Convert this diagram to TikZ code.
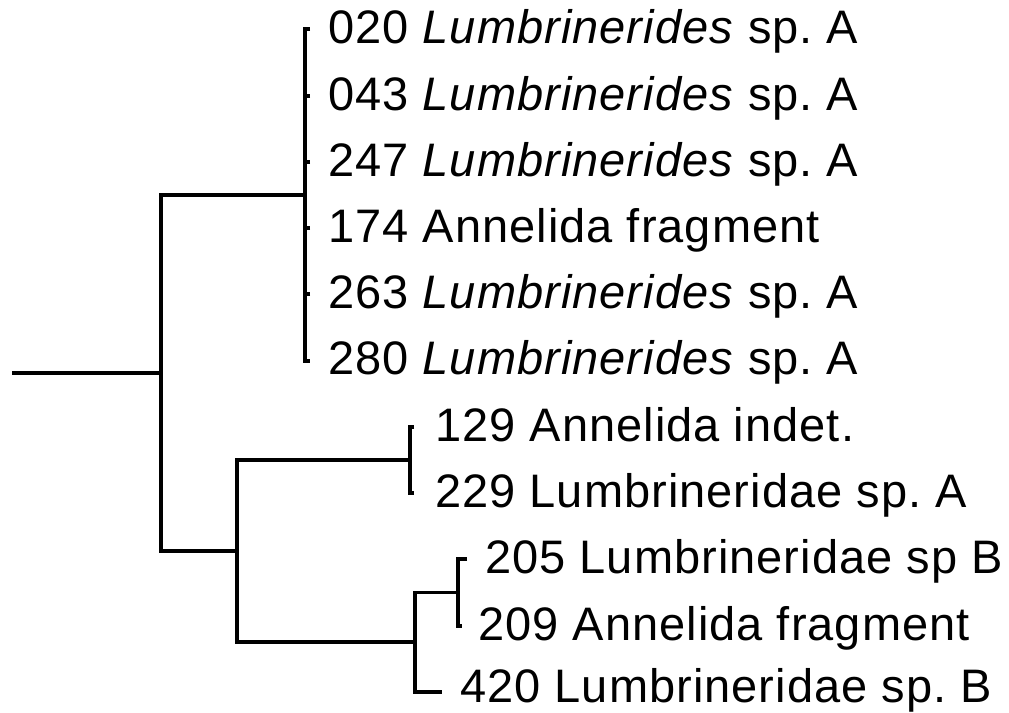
\documentclass[tikz,border=0pt]{standalone}
\usepackage{fontspec}
\setmainfont[LetterSpace=2.2]{Liberation Sans}
\frenchspacing
\begin{document}
\begin{tikzpicture}[x=1pt,y=-1pt,
  br/.style={line width=3.3pt, line join=miter, line cap=butt},
  lab/.style={anchor=base west, inner sep=0pt, font=\fontsize{47}{50}\selectfont}]
\useasboundingbox (0,0) rectangle (1009,712);
% internal nodes
\coordinate (r) at (12,373);
\coordinate (a) at (161,373);
\coordinate (top) at (305,195);
\coordinate (low) at (237,551);
\coordinate (cA) at (410,460);
\coordinate (cB) at (415,642);
\coordinate (cBs) at (458,592.5);
% tips
\coordinate (t1) at (310,29);
\coordinate (t2) at (310,96);
\coordinate (t3) at (310,162);
\coordinate (t4) at (310,228);
\coordinate (t5) at (310,294);
\coordinate (t6) at (310,361);
\coordinate (t7) at (414,427);
\coordinate (t8) at (414,493);
\coordinate (t9) at (467,559);
\coordinate (t10) at (462,626);
\coordinate (t11) at (442,692);
% branches
\draw[br] (r) -- (a);
\draw[br] (top) -| (a) |- (low);
\draw[br] (t1) -| (top) |- (t6);
\foreach \t in {t2,t3,t4,t5} \draw[br] (\t) -- (\t -| top);
\draw[br] (cA) -| (low) |- (cB);
\draw[br] (t7) -| (cA) |- (t8);
\draw[br] (cBs) -| (cB) |- (t11);
\draw[br] (t9) -| (cBs) |- (t10);
% labels
\node[lab] (l1) at (328,43.5) {020 \textit{Lumbrinerides} sp. A};
\node[lab] (l2) at (328,110.5) {043 \textit{Lumbrinerides} sp. A};
\node[lab] (l3) at (328,176.5) {247 \textit{Lumbrinerides} sp. A};
\node[lab] (l4) at (328,242.5) {174 Annelida fragment};
\node[lab] (l5) at (328,308.5) {263 \textit{Lumbrinerides} sp. A};
\node[lab] (l6) at (328,374.5) {280 \textit{Lumbrinerides} sp. A};
\node[lab] (l7) at (435,441.5) {129 Annelida indet.};
\node[lab] (l8) at (435,507.5) {229 Lumbrineridae sp. A};
\node[lab] (l9) at (485,573) {205 Lumbrineridae sp B};
\node[lab] (l10) at (478,640) {209 Annelida fragment};
\node[lab] (l11) at (460,702) {420 Lumbrineridae sp. B};
\end{tikzpicture}
\end{document}
